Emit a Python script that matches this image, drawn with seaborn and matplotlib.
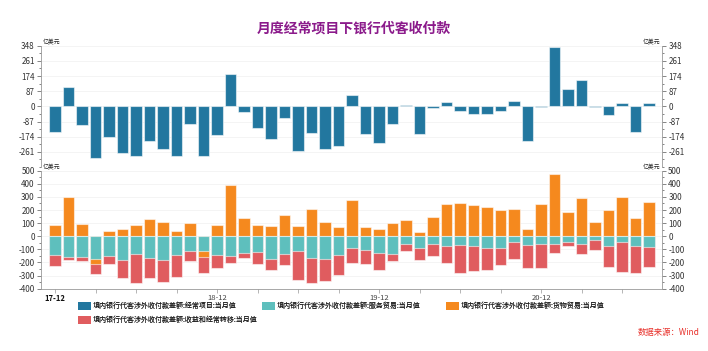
import matplotlib
matplotlib.use("Agg")
import matplotlib.pyplot as plt
from matplotlib.patches import Patch
from matplotlib.ticker import FixedLocator, AutoMinorLocator
import numpy as np
import pandas as pd
import seaborn as sns

# monthly data, 2017-12 .. 2021-08, unit: 100 million USD
months = pd.date_range("2017-12-01", periods=45, freq="MS").strftime("%y-%m").tolist()

current_account = [-149, 109, -105, -298, -178, -268, -283, -197, -247, -285, -99, -287,
                   -164, 184, -34, -126, -185, -65, -258, -153, -247, -229, 67, -159,
                   -208, -101, 8, -161, -8, 25, -29, -42, -46, -29, 33, -196,
                   -4, 341, 100, 154, -6, -48, 21, -149, 21]
goods = [89, 297, 94, -38, 43, 58, 89, 129, 112, 41, 99, -46,
         84, 391, 142, 89, 81, 162, 81, 211, 107, 74, 276, 69,
         58, 99, 124, 33, 147, 244, 256, 236, 223, 198, 211, 58,
         246, 472, 185, 294, 109, 198, 302, 142, 264]
services = [-140, -155, -162, -173, -147, -178, -132, -165, -180, -142, -109, -112,
            -140, -152, -124, -122, -170, -135, -109, -165, -175, -142, -86, -104,
            -127, -135, -56, -89, -56, -71, -69, -74, -91, -86, -41, -64,
            -56, -56, -41, -61, -28, -74, -46, -71, -81]
income = [-88, -25, -26, -78, -61, -137, -228, -150, -168, -168, -79, -119,
          -104, -49, -44, -86, -86, -86, -221, -188, -165, -152, -115, -109,
          -129, -55, -53, -91, -91, -135, -208, -192, -168, -135, -132, -180,
          -188, -68, -35, -71, -76, -160, -226, -211, -153]

tick_labels = ["17-12", "18-12", "19-12", "20-12"]
series_names = ["境内银行代客涉外收付款差额:经常项目:当月值",
                "境内银行代客涉外收付款差额:服务贸易:当月值",
                "境内银行代客涉外收付款差额:货物贸易:当月值",
                "境内银行代客涉外收付款差额:收益和经常转移:当月值"]

BLUE, TEAL, ORANGE, RED = "#22779f", "#5ebfbd", "#f5891e", "#e05c5f"

sns.set_theme(style="white")
plt.rcParams["font.family"] = ["Noto Sans CJK SC", "DejaVu Sans"]
plt.rcParams["axes.unicode_minus"] = False

# stacking: services, negative goods, income below zero; positive goods above
svc = np.array(services)
gd = np.array(goods)
inc = np.array(income)
df = pd.DataFrame({
    "month": months,
    "current": current_account,
    "red": svc + np.minimum(gd, 0) + inc,
    "orange": np.where(gd > 0, gd, svc + gd),
    "teal": svc,
})

fig = plt.figure(figsize=(7.08, 3.51), dpi=100)
W, H = 708, 351
ax1 = fig.add_axes([41 / W, 1 - 167 / H, 621 / W, 121.3 / H])
ax2 = fig.add_axes([41 / W, 1 - 288.7 / H, 621 / W, 118 / H])

bar_kw = dict(saturation=1, width=0.85, edgecolor=(1, 1, 1, 0.55), linewidth=0.8)
sns.barplot(data=df, x="month", y="current", color=BLUE, ax=ax1, **bar_kw)
sns.barplot(data=df, x="month", y="red", color=RED, ax=ax2, **bar_kw)
sns.barplot(data=df, x="month", y="orange", color=ORANGE, ax=ax2, **bar_kw)
sns.barplot(data=df, x="month", y="teal", color=TEAL, ax=ax2, **bar_kw)

ax1.set_ylim(-348, 348)
ax1.set_yticks([-261, -174, -87, 0, 87, 174, 261, 348])
ax2.set_ylim(-400, 500)
ax2.set_yticks(range(-400, 501, 100))

for ax in (ax1, ax2):
    ax.set_xlim(-1.05, 44.95)
    ax.set_xlabel("")
    ax.set_ylabel("")
    ax.set_axisbelow(True)
    ax.yaxis.grid(True, color="#f2f2f2", linewidth=0.6)
    ax.yaxis.set_minor_locator(AutoMinorLocator(2))
    ax.tick_params(axis="y", which="both", left=True, right=True,
                   labelleft=True, labelright=True, labelsize=5.8,
                   colors="#555555", labelcolor="#333333", width=0.5, pad=1.5)
    ax.tick_params(axis="y", which="major", length=3)
    ax.tick_params(axis="y", which="minor", length=1.5)
    ax.spines["top"].set_visible(False)
    for side in ("left", "right", "bottom"):
        ax.spines[side].set_color("#999999")
        ax.spines[side].set_linewidth(0.6)
    ax.text(0.003, 1.0, "亿美元", transform=ax.transAxes, ha="left", va="bottom",
            fontsize=4.2, color="#222222")
    ax.text(0.997, 1.0, "亿美元", transform=ax.transAxes, ha="right", va="bottom",
            fontsize=4.2, color="#222222")

ax1.spines["bottom"].set_visible(False)
ax1.tick_params(axis="x", bottom=False, labelbottom=False)

ax2.xaxis.set_major_locator(FixedLocator([0, 12, 24, 36]))
ax2.set_xticklabels(tick_labels)
ax2.xaxis.set_minor_locator(FixedLocator(list(range(0, 45, 3))))
ax2.tick_params(axis="x", which="both", bottom=True, length=3, width=0.5,
                colors="#999999", labelsize=5.5, labelcolor="#444444", pad=1)
ax2.get_xticklabels()[0].set_fontweight("bold")
ax2.get_xticklabels()[0].set_color("#111111")

fig.text(0.5, 1 - 28 / H, "月度经常项目下银行代客收付款", ha="center", va="center",
         fontsize=10, fontweight="bold", color="#8b1a8b")

# legend: three columns at fixed positions, like the reference
colors = [BLUE, TEAL, ORANGE, RED]
handles = [Patch(facecolor=c, edgecolor="none", label=n) for c, n in zip(colors, series_names)]
legend_kw = dict(loc="upper left", frameon=False, fontsize=5.0, handlelength=1.8,
                 handleheight=1.4, handletextpad=0.25, labelspacing=0.75,
                 borderaxespad=0, borderpad=0)
for hs, x0 in (([handles[0], handles[3]], 78), ([handles[1]], 262), ([handles[2]], 446)):
    fig.add_artist(fig.legend(handles=hs, bbox_to_anchor=(x0 / W, 1 - 302 / H), **legend_kw))

fig.text(700 / W, 1 - 332 / H, "数据来源：Wind", ha="right", va="center",
         fontsize=6, color="#e8302a", style="italic")

fig.savefig("out.png", dpi=100)
